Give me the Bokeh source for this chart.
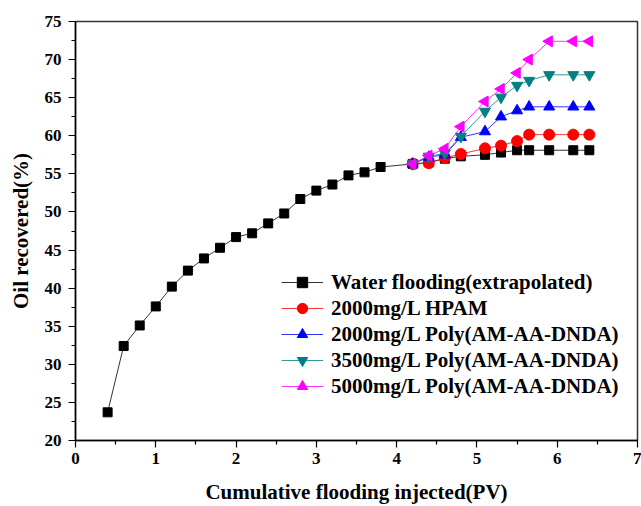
import math
from bokeh.plotting import figure
from bokeh.models import Range1d, FixedTicker, Legend, LegendItem
from bokeh.embed import file_html
from bokeh.resources import INLINE

water_x = [0.4, 0.6, 0.8, 1.0, 1.2, 1.4, 1.6, 1.8, 2.0, 2.2, 2.4, 2.6, 2.8, 3.0, 3.2, 3.4, 3.6, 3.8,
           4.2, 4.4, 4.6, 4.8, 5.1, 5.3, 5.5, 5.65, 5.9, 6.2, 6.4]
water_y = [23.7, 32.4, 35.1, 37.6, 40.2, 42.3, 43.9, 45.3, 46.7, 47.2, 48.5, 49.8, 51.7, 52.8, 53.6, 54.8, 55.2, 55.9,
           56.3, 56.5, 57.0, 57.3, 57.5, 57.8, 58.1, 58.1, 58.1, 58.1, 58.1]
poly_x = [4.2, 4.4, 4.6, 4.8, 5.1, 5.3, 5.5, 5.65, 5.9, 6.2, 6.4]
hpam_2000 = [56.3, 56.4, 57.1, 57.6, 58.35, 58.7, 59.3, 60.15, 60.15, 60.15, 60.15]
poly_2000 = [56.3, 57.2, 57.5, 59.8, 60.55, 62.5, 63.3, 63.8, 63.8, 63.8, 63.8]
poly_3500 = [56.3, 57.3, 57.7, 59.9, 63.2, 65.05, 66.6, 67.25, 68.0, 68.0, 68.0]
poly_5000 = [56.3, 57.4, 58.3, 61.2, 64.5, 66.15, 68.25, 70.0, 72.4, 72.4, 72.4]

labels = ["Water flooding(extrapolated)", "2000mg/L HPAM", "2000mg/L Poly(AM-AA-DNDA)",
          "3500mg/L Poly(AM-AA-DNDA)", "5000mg/L Poly(AM-AA-DNDA)"]
x_ticks = [0, 1, 2, 3, 4, 5, 6, 7]
y_ticks = [20, 25, 30, 35, 40, 45, 50, 55, 60, 65, 70, 75]

FONT = "Liberation Serif"

p = figure(width=641, height=506, output_backend="svg", toolbar_location=None,
           x_range=Range1d(0, 7), y_range=Range1d(20, 75),
           min_border_left=75, min_border_right=4, min_border_top=21, min_border_bottom=66)
p.grid.visible = False
p.outline_line_color = "#333333"
p.outline_line_width = 1.5
p.background_fill_color = "white"
p.border_fill_color = "white"

for ax in (p.xaxis[0], p.yaxis[0]):
    ax.axis_line_color = "black"
    ax.axis_line_width = 1.5
    ax.major_tick_line_color = "black"
    ax.minor_tick_line_color = "black"
    ax.major_tick_line_width = 1.2
    ax.minor_tick_line_width = 1.2
    ax.major_tick_in = 0
    ax.major_tick_out = 7
    ax.minor_tick_in = 0
    ax.minor_tick_out = 4
    ax.major_label_text_font = FONT
    ax.major_label_text_font_style = "bold"
    ax.major_label_text_font_size = "17px"
    ax.major_label_text_color = "black"
    ax.axis_label_text_font = FONT
    ax.axis_label_text_font_style = "bold"
    ax.axis_label_text_font_size = "21px"
    ax.axis_label_text_color = "black"

p.xaxis[0].ticker = FixedTicker(ticks=x_ticks, minor_ticks=[v + 0.5 for v in x_ticks[:-1]])
p.yaxis[0].ticker = FixedTicker(ticks=y_ticks, minor_ticks=[v + 2.5 for v in y_ticks[:-1]])
p.xaxis[0].axis_label = "Cumulative flooding injected(PV)"
p.yaxis[0].axis_label = "Oil recovered(%)"
p.xaxis[0].major_label_standoff = 5
p.yaxis[0].major_label_standoff = 7
p.xaxis[0].axis_label_standoff = 13
p.yaxis[0].axis_label_standoff = 9

series = [
    (water_x, water_y, "black", "square", 9, 0),
    (poly_x, hpam_2000, "#ff0000", "circle", 11, 0),
    (poly_x, poly_2000, "#0000ff", "triangle", 11, 0),
    (poly_x, poly_3500, "#008080", "inverted_triangle", 11, 0),
    (poly_x, poly_5000, "#ff00ff", "triangle", 11, math.pi / 2),
]

items = []
for (xs, ys, color, marker, size, ang), lab in zip(series, labels):
    l = p.line(xs, ys, line_color=color, line_width=1, line_alpha=0.8)
    s = p.scatter(xs, ys, marker=marker, size=size, fill_color=color, line_color=color, angle=ang)
    items.append(LegendItem(label=lab, renderers=[l, s]))

legend = Legend(items=items, location=(206, 41))
legend.label_text_font = FONT
legend.label_text_font_style = "bold"
legend.label_text_font_size = "21px"
legend.label_text_color = "black"
legend.glyph_width = 42
legend.glyph_height = 26
legend.label_height = 26
legend.label_standoff = 8
legend.spacing = 0
legend.padding = 0
legend.margin = 0
legend.border_line_alpha = 0
legend.background_fill_alpha = 0
p.add_layout(legend, "center")

open("out.html", "w").write(file_html(p, INLINE))
